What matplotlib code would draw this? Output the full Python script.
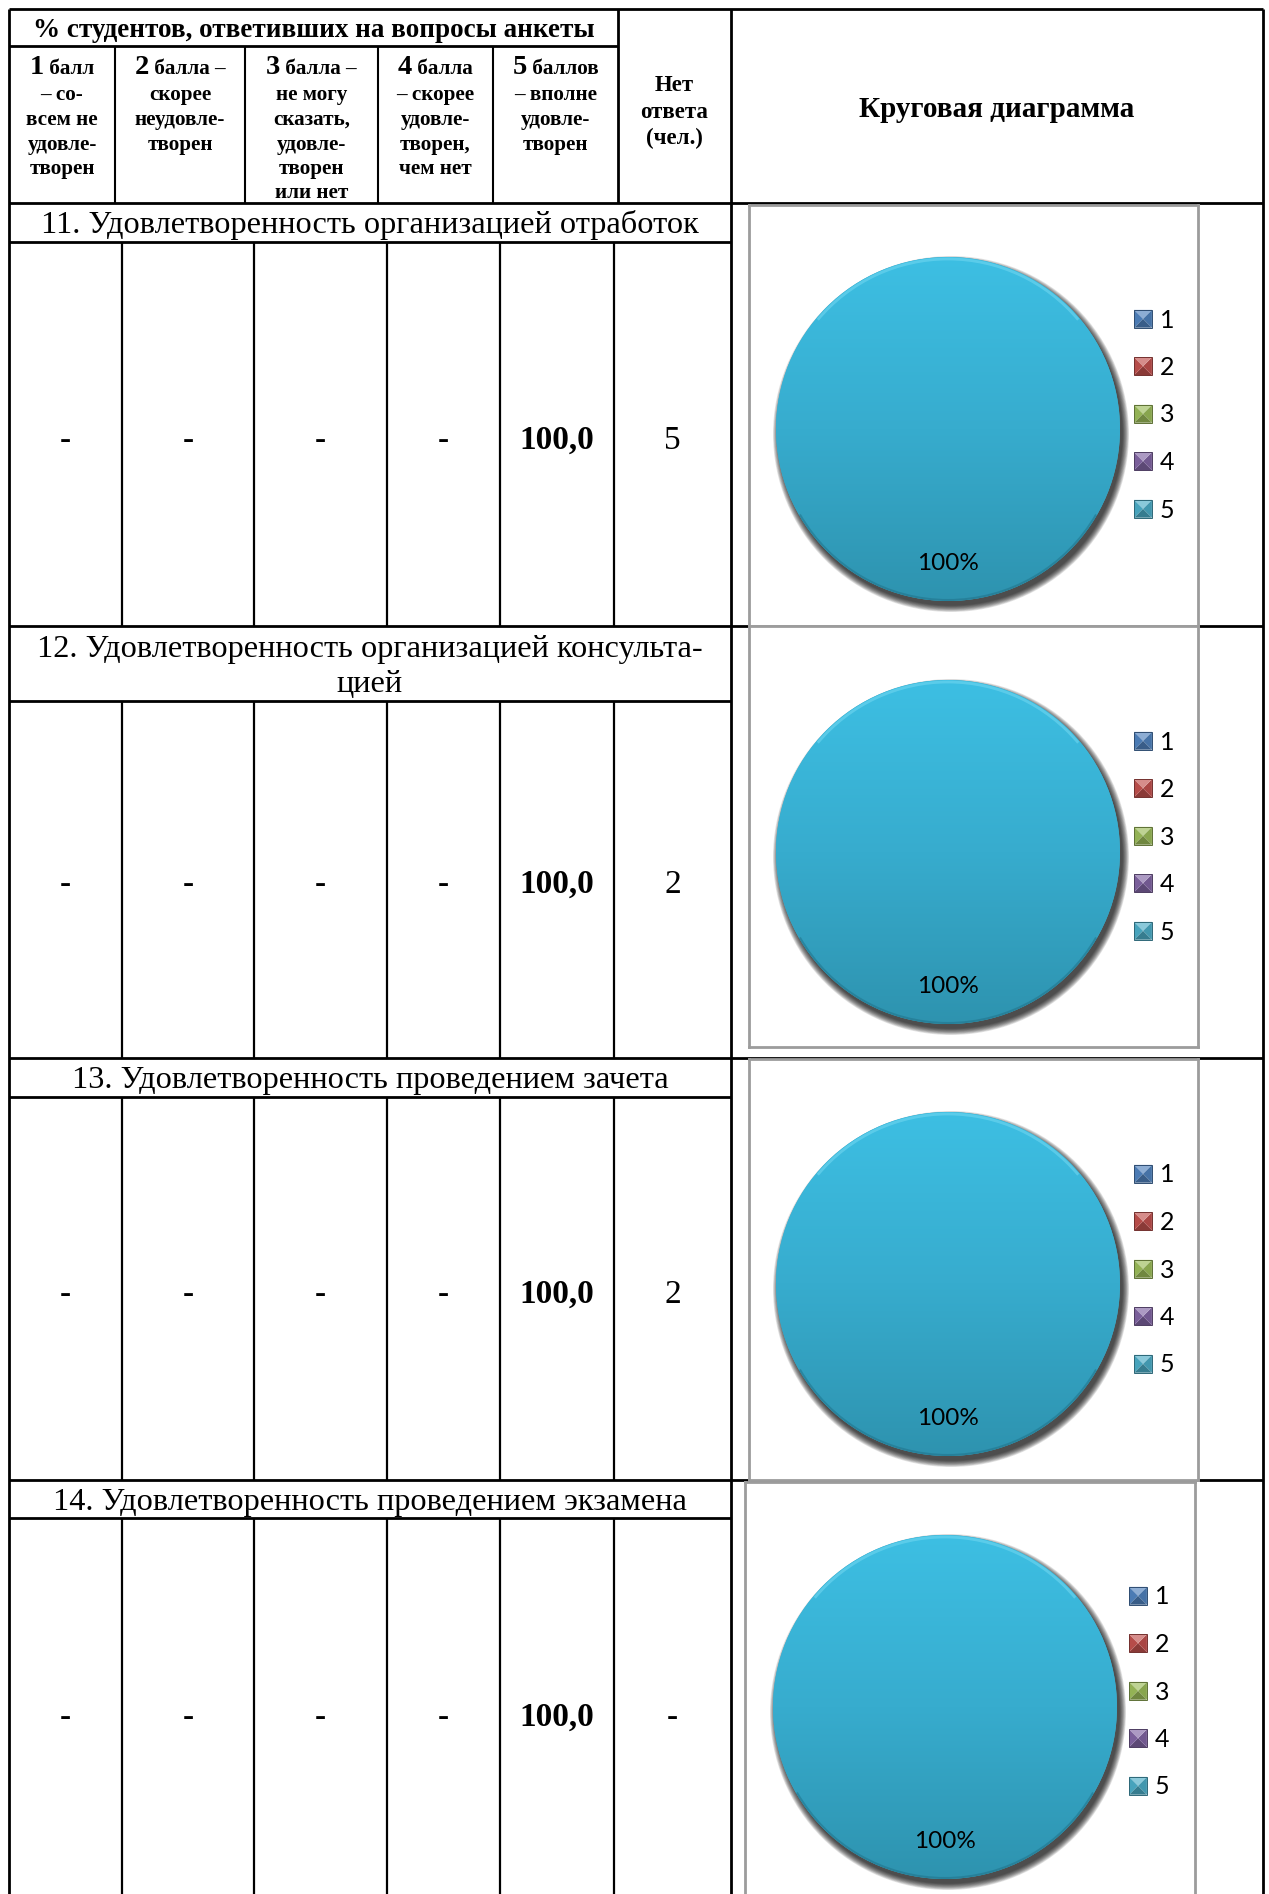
import numpy as np
import matplotlib
matplotlib.use('Agg')
import matplotlib.pyplot as plt
from matplotlib.patches import Circle, Rectangle, Polygon, Wedge, Arc
from matplotlib.colors import LinearSegmentedColormap, to_rgb
from matplotlib.legend_handler import HandlerBase

W, H = 1269, 1894
SERIF = 'Liberation Serif'
SANS = 'Lato'

# ---------------- data ----------------
header_title = '% студентов, ответивших на вопросы анкеты'
score_digits = ['1', '2', '3', '4', '5']
score_first = [' балл', ' балла –', ' балла –', ' балла', ' баллов']
score_rest = [
    ['– со-', 'всем не', 'удовле-', 'творен'],
    ['скорее', 'неудовле-', 'творен'],
    ['не могу', 'сказать,', 'удовле-', 'творен', 'или нет'],
    ['– скорее', 'удовле-', 'творен,', 'чем нет'],
    ['– вполне', 'удовле-', 'творен'],
]
noans_head = ['Нет', 'ответа', '(чел.)']
chart_head = 'Круговая диаграмма'

questions = [
    '11. Удовлетворенность организацией отработок',
    '12. Удовлетворенность организацией консульта-\nцией',
    '13. Удовлетворенность проведением зачета',
    '14. Удовлетворенность проведением экзамена',
]
pct_q11 = [0, 0, 0, 0, 100.0]
pct_q12 = [0, 0, 0, 0, 100.0]
pct_q13 = [0, 0, 0, 0, 100.0]
pct_q14 = [0, 0, 0, 0, 100.0]
no_answer = [5, 2, 2, None]
legend_labels = ['1', '2', '3', '4', '5']
slice_colors = ['#4F81BD', '#C0504D', '#9BBB59', '#8064A2', '#4BACC6']

pct_rows = [pct_q11, pct_q12, pct_q13, pct_q14]

# ---------------- layout (pixels) ----------------
X_L, X_R, Y_T = 9, 1263, 9
X_CH = 731                         # left edge of chart column
hdr_mid, hdr_bot = 46, 203
hdr_cols = [9, 115, 245, 378, 493, 618, 731]
data_cols = [9, 122, 254, 387, 500, 614, 731]
# (row top, title bottom, row bottom)
rows = [(203, 242, 626), (626, 701, 1058), (1058, 1097, 1480), (1480, 1518, 1900)]
title_base = [[233], [657, 692], [1088], [1510]]
value_base = [449, 893, 1303, 1726]
chart_box = [(749, 205, 1198, 626), (749, 626, 1198, 1047),
             (749, 1059, 1198, 1480), (745, 1482, 1195, 1900)]
pie_c = [(948, 429), (948, 852), (948, 1284), (945, 1707)]
pie_r = 172
legend_y = [415, 837, 1270, 1692]
legend_x = [1134, 1134, 1134, 1129]


class BevelHandler(HandlerBase):
    def create_artists(self, legend, orig_handle, xdescent, ydescent,
                       width, height, fontsize, trans):
        c = np.array(to_rgb(orig_handle.get_facecolor()))
        s = height
        x0 = -xdescent + (width - s) / 2
        y0 = -ydescent
        cx, cy = x0 + s / 2, y0 + s / 2
        p = [(x0, y0), (x0 + s, y0), (x0 + s, y0 + s), (x0, y0 + s)]
        shades = [c * 0.72, c * 0.88, c + (1 - c) * 0.35, c * 0.95]
        arts = []
        for i in range(4):
            arts.append(Polygon([p[i], p[(i + 1) % 4], (cx, cy)], closed=True,
                                facecolor=np.clip(shades[i], 0, 1),
                                edgecolor='none', transform=trans))
        arts.append(Rectangle((x0, y0), s, s, fill=False, edgecolor=c * 0.6,
                              lw=0.7, transform=trans))
        return arts


fig = plt.figure(figsize=(W / 100, H / 100), dpi=100)
ax = fig.add_axes([0, 0, 1, 1])
ax.set_xlim(0, W)
ax.set_ylim(H, 0)
ax.axis('off')

LW = 2.0

def hline(y, x0, x1, lw=LW):
    ax.plot([x0, x1], [y, y], color='black', lw=lw, solid_capstyle='butt')

def vline(x, y0, y1, lw=LW):
    ax.plot([x, x], [y0, y1], color='black', lw=lw, solid_capstyle='butt')

# ---------------- grid ----------------
hline(Y_T, X_L, X_R)
hline(hdr_mid, X_L, hdr_cols[5])
vline(X_L, Y_T, H)
vline(X_R, Y_T, H)
vline(X_CH, Y_T, H)
vline(hdr_cols[5], Y_T, hdr_bot)
for x in hdr_cols[1:5]:
    vline(x, hdr_mid, hdr_bot, lw=1.5)
for (top, tbot, bot) in rows:
    hline(top, X_L, X_R)
    hline(tbot, X_L, X_CH)
    for x in data_cols[1:6]:
        vline(x, tbot, bot, lw=1.6)

# ---------------- header text ----------------
ax.text((hdr_cols[0] + hdr_cols[5]) / 2, 37, header_title, fontsize=19.5,
        fontweight='bold', family=SERIF, ha='center', va='baseline')

renderer = fig.canvas.get_renderer()
line_base = [74, 100, 125, 150, 174, 198]
for k in range(5):
    xc = (hdr_cols[k] + hdr_cols[k + 1]) / 2
    t1 = ax.text(0, line_base[0], score_digits[k], fontsize=20.5, fontweight='bold',
                 family=SERIF, ha='left', va='baseline')
    t2 = ax.text(0, line_base[0], score_first[k], fontsize=15.2, fontweight='bold',
                 family=SERIF, ha='left', va='baseline')
    w1 = t1.get_window_extent(renderer).width
    w2 = t2.get_window_extent(renderer).width
    x0 = xc - (w1 + w2) / 2
    t1.set_x(x0)
    t2.set_x(x0 + w1)
    for j, s in enumerate(score_rest[k]):
        ax.text(xc, line_base[j + 1], s, fontsize=15.2, fontweight='bold',
                family=SERIF, ha='center', va='baseline')

xc = (hdr_cols[5] + hdr_cols[6]) / 2
for s, yb in zip(noans_head, [91, 118, 144]):
    ax.text(xc, yb, s, fontsize=16.5, fontweight='bold', family=SERIF,
            ha='center', va='baseline')
ax.text((X_CH + X_R) / 2, 117, chart_head, fontsize=21, fontweight='bold',
        family=SERIF, ha='center', va='baseline')

# ---------------- rows ----------------
for i, q in enumerate(questions):
    for s, yb in zip(q.split('\n'), title_base[i]):
        ax.text((X_L + X_CH) / 2, yb, s, fontsize=23.3, family=SERIF,
                ha='center', va='baseline')
    vals = pct_rows[i]
    for j in range(5):
        xc = (data_cols[j] + data_cols[j + 1]) / 2
        if vals[j] == 0:
            ax.text(xc, value_base[i], '-', fontsize=24, fontweight='bold',
                    family=SERIF, ha='center', va='baseline')
        else:
            ax.text(xc, value_base[i], f'{vals[j]:.1f}'.replace('.', ','),
                    fontsize=24, fontweight='bold', family=SERIF,
                    ha='center', va='baseline')
    xc = (data_cols[5] + data_cols[6]) / 2
    na = '-' if no_answer[i] is None else str(no_answer[i])
    ax.text(xc, value_base[i], na, fontsize=24, family=SERIF,
            fontweight='bold' if no_answer[i] is None else 'normal',
            ha='center', va='baseline')

# ---------------- pie charts ----------------
grad_cmap = LinearSegmentedColormap.from_list('aqua', ['#2E93AF', '#37ACCE', '#3DBFE3'])
for i in range(4):
    x0, y0, x1, y1 = chart_box[i]
    cax = fig.add_axes([x0 / W, 1 - y1 / H, (x1 - x0) / W, (y1 - y0) / H])
    cx, cy = pie_c[i][0], H - pie_c[i][1]
    r = pie_r
    # soft shadow
    for k in range(10):
        cax.add_patch(Circle((cx + 3, cy - 5), r + 6 - 0.7 * k, color='black',
                             alpha=0.11, lw=0, zorder=0.5))
    wedges, texts, autotexts = cax.pie(
        pct_rows[i], colors=slice_colors, startangle=90, counterclock=False,
        center=(cx, cy), radius=r, frame=True,
        autopct=lambda p: '' if p < 0.5 else f'{p:.0f}%', pctdistance=0.78,
        textprops=dict(family=SANS, fontsize=17.5, color='black'))
    for w in wedges:
        w.set_zorder(1)
    for t in autotexts:
        t.set_zorder(4)
    img = cax.imshow(np.linspace(0, 1, 256).reshape(-1, 1), cmap=grad_cmap,
                     origin='lower', extent=[cx - r, cx + r, cy - r, cy + r],
                     aspect='auto', zorder=1.5, interpolation='bilinear')
    img.set_clip_path(Circle((cx, cy), r, transform=cax.transData))
    cax.add_patch(Arc((cx, cy), 2 * r - 4, 2 * r - 4, theta1=40, theta2=140,
                      color='#6FD6F0', lw=2.0, alpha=0.6, zorder=2))
    cax.add_patch(Arc((cx, cy), 2 * r - 2, 2 * r - 2, theta1=210, theta2=330,
                      color='#1F6F86', lw=1.5, alpha=0.5, zorder=2))
    cax.set_xlim(x0, x1)
    cax.set_ylim(H - y1, H - y0)
    cax.set_xticks([])
    cax.set_yticks([])
    for sp in cax.spines.values():
        sp.set_color('#9C9C9C')
        sp.set_linewidth(2.0)
    cax.legend(wedges, legend_labels, handler_map={Wedge: BevelHandler()},
               loc='center left', bbox_to_anchor=(legend_x[i], H - legend_y[i]),
               bbox_transform=cax.transData, frameon=False,
               prop=dict(family=SANS, size=18), handlelength=0.72,
               handleheight=0.72, handletextpad=0.3, labelspacing=0.98,
               borderpad=0, borderaxespad=0)

fig.savefig('out.png', dpi=100)
